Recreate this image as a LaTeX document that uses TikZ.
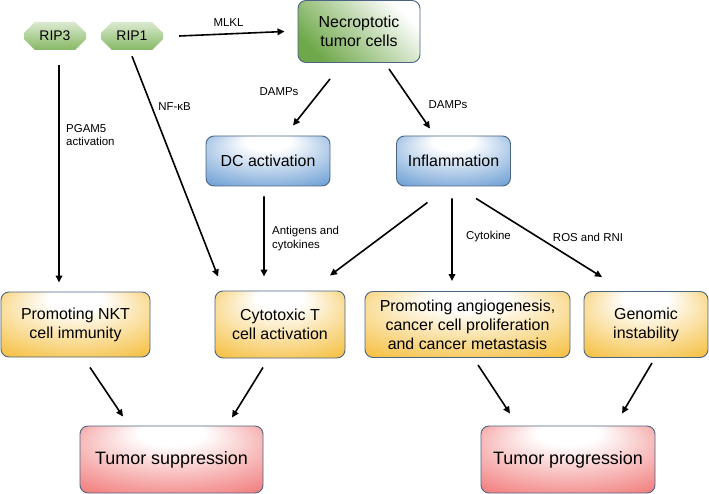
\documentclass[tikz,border=0pt]{standalone}
\usepackage{fontspec}
\setmainfont{Liberation Sans}
\usetikzlibrary{arrows.meta,shapes.misc}
\definecolor{slate}{HTML}{4A6485}
\definecolor{necgreen}{HTML}{6FA84A}
\definecolor{ripgreen}{HTML}{86B863}
\definecolor{boxblue}{HTML}{5B93CF}
\definecolor{boxyellow}{HTML}{F4B82A}
\definecolor{boxred}{HTML}{F06E6E}
\pgfdeclareradialshading{blueglow}{\pgfpoint{0bp}{24bp}}{color(0bp)=(white);color(9bp)=(white);color(42bp)=(boxblue);color(50bp)=(boxblue)}
\pgfdeclareradialshading{yellowglow}{\pgfpoint{0bp}{24bp}}{color(0bp)=(white);color(9bp)=(white);color(42bp)=(boxyellow);color(50bp)=(boxyellow)}
\pgfdeclareradialshading{redglow}{\pgfpoint{0bp}{24bp}}{color(0bp)=(white);color(9bp)=(white);color(42bp)=(boxred);color(50bp)=(boxred)}
\tikzset{
  box/.style={draw=slate,line width=0.9bp,rounded corners=8bp,align=center,
    inner sep=0pt,font=\fontsize{16}{19}\selectfont},
  ripbox/.style={chamfered rectangle,chamfered rectangle xsep=9bp,
    chamfered rectangle ysep=6bp,inner sep=0pt,minimum width=62bp,minimum height=28bp,
    top color=ripgreen!30!white,bottom color=ripgreen,font=\fontsize{14}{16}\selectfont},
  arr/.style={line width=1.6bp,-{Triangle[length=7bp,width=6.5bp]}},
  lbl/.style={font=\fontsize{11.5}{13.5}\selectfont,inner sep=0pt,align=left}
}
\begin{document}
\begin{tikzpicture}[x=1bp,y=-1bp]
  \useasboundingbox (0,0) rectangle (709,494);
  % top row
  \node[ripbox] (rip3) at (55,36) {RIP3};
  \node[ripbox] (rip1) at (132,36) {RIP1};
  \node[box,minimum width=122bp,minimum height=62bp,bottom color=necgreen,
    middle color=necgreen!45!white,top color=white,
    shading angle=-45] (necro) at (359,31.5) {Necroptotic\\tumor cells};
  % middle row
  \node[box,minimum width=124bp,minimum height=50bp,shading=blueglow] (dc) at (268,161) {DC activation};
  \node[box,minimum width=114bp,minimum height=50bp,shading=blueglow] (infl) at (453.5,161) {Inflammation};
  % effects
  \node[box,minimum width=149bp,minimum height=65bp,shading=yellowglow] (nkt) at (75.5,324.5) {Promoting NKT\\cell immunity};
  \node[box,minimum width=130bp,minimum height=67bp,shading=yellowglow] (cytot) at (280,324.5) {Cytotoxic T\\cell activation};
  \node[box,minimum width=205bp,minimum height=66bp,shading=yellowglow] (angio) at (467.5,324.5) {Promoting angiogenesis,\\cancer cell proliferation\\and cancer metastasis};
  \node[box,minimum width=124bp,minimum height=66bp,shading=yellowglow] (genom) at (646,324.5) {Genomic\\instability};
  % outcomes
  \node[box,minimum width=183bp,minimum height=67bp,shading=redglow,font=\fontsize{18}{21}\selectfont] (tsupp) at (171.5,459.5) {Tumor suppression};
  \node[box,minimum width=174bp,minimum height=67bp,shading=redglow,font=\fontsize{18}{21}\selectfont] (tprog) at (568,459.5) {Tumor progression};
  % connectors
  \draw[arr] ([xshift=16bp]rip1.east) -- ([xshift=-13bp]necro.west);
  \draw[arr] ([xshift=-29bp,yshift=-16bp]necro.south) -- ([xshift=25bp,yshift=10bp]dc.north);
  \draw[arr] ([xshift=30bp,yshift=-6bp]necro.south) -- ([xshift=-23.5bp,yshift=7bp]infl.north);
  \draw[arr] ([xshift=-4bp,yshift=-10bp]dc.south) -- ([xshift=-16bp,yshift=14bp]cytot.north);
  \draw[arr] ([xshift=-26bp,yshift=-16bp]infl.south) -- ([xshift=50bp,yshift=15bp]cytot.north);
  \draw[arr] ([xshift=-1.5bp,yshift=-12bp]infl.south) -- ([xshift=-15.5bp,yshift=10bp]angio.north);
  \draw[arr] ([xshift=22.5bp,yshift=-12bp]infl.south) -- ([xshift=-44bp,yshift=14bp]genom.north);
  \draw[arr] ([xshift=4bp,yshift=-15bp]rip3.south) -- ([xshift=-16.5bp,yshift=9bp]nkt.north);
  \draw[arr] ([yshift=-6bp]rip1.south) -- ([xshift=-62bp,yshift=14bp]cytot.north);
  \draw[arr] ([xshift=14.5bp,yshift=-10bp]nkt.south) -- ([xshift=-48.5bp,yshift=9bp]tsupp.north);
  \draw[arr] ([xshift=-17bp,yshift=-9bp]cytot.south) -- ([xshift=60.5bp,yshift=8bp]tsupp.north);
  \draw[arr] ([xshift=10.5bp,yshift=-7bp]angio.south) -- ([xshift=-58bp,yshift=12bp]tprog.north);
  \draw[arr] ([xshift=6bp,yshift=-5bp]genom.south) -- ([xshift=54bp,yshift=12bp]tprog.north);
  % labels
  \node[lbl] (lmlkl) at (228.5,23) {MLKL};
  \node[lbl] (ldamps1) at (279,92) {DAMPs};
  \node[lbl] (ldamps2) at (448,105) {DAMPs};
  \node[lbl] (lnfkb) at (174.5,107) {NF-κB};
  \node[lbl,anchor=west] (lpgam) at (66,135) {PGAM5\\activation};
  \node[lbl,anchor=west] (lantig) at (272,238.5) {Antigens and\\cytokines};
  \node[lbl] (lcyto) at (488.5,237) {Cytokine};
  \node[lbl] (lros) at (588,237) {ROS and RNI};
\end{tikzpicture}
\end{document}
